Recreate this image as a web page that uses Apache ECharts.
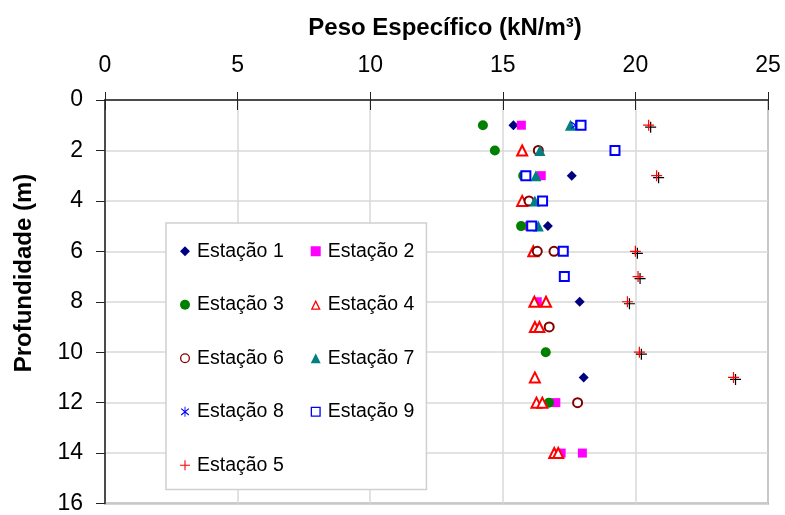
<!DOCTYPE html>
<html>
<head>
<meta charset="utf-8">
<script src="https://cdn.jsdelivr.net/npm/echarts@6/dist/echarts.min.js"></script>
<style>html,body{margin:0;padding:0;background:#fff}#c{width:785px;height:515px}</style>
</head>
<body>
<div id="c"></div>
<script>
// Data: [peso específico (kN/m3), profundidade (m)]
const estacao1 = [[15.4,1],[17.6,3],[16.7,5],[17.9,8],[18.05,11]];
const estacao2 = [[15.7,1],[16.45,3],[16.0,5],[16.3,8],[17.0,12],[17.2,14],[18.0,14]];
const estacao3 = [[14.25,1],[14.7,2],[15.77,3],[15.69,5],[16.62,10],[16.74,12]];
const estacao4 = [[15.73,2],[15.73,4],[16.15,6],[16.19,8],[16.63,8],[16.21,9],[16.38,9],[16.21,11],[16.27,12],[16.49,12],[16.94,14],[17.09,14]];
const estacao6 = [[16.34,2],[15.99,4],[16.3,6],[16.93,6],[16.75,9],[17.82,12]];
const estacao7 = [[17.55,1],[16.4,2],[16.25,3],[16.21,4],[16.34,5]];
const estacao8 = [[17.75,1]];
const estacao9 = [[17.95,1],[19.23,2],[15.87,3],[16.5,4],[16.09,5],[17.28,6],[17.32,7]];
const estacao5 = [[20.5,1],[20.8,3],[20.0,6],[20.1,7],[19.7,8],[20.15,10],[23.7,11]];

const xTicks = [0,5,10,15,20,25];
const yTicks = [0,2,4,6,8,10,12,14,16];
const xTitle = 'Peso Específico (kN/m³)';
const yTitle = 'Profundidade (m)';

const FONT = '"Liberation Sans", Arial, sans-serif';
const plusPath = 'path://M-1.1,-10h2.2v20h-2.2z M-10,-1.1h20v2.2h-20z';
const starPath = 'path://M-0.9,-10h1.8v20h-1.8z M8.35,5.55L6.95,7.25L-8.35,-5.55L-6.95,-7.25z M-6.95,7.25L-8.35,5.55L6.95,-7.25L8.35,-5.55z';
// hollow legend icons (filled rings)
const ringRect = 'path://M0,0L10,0L10,10L0,10Z M1.3,1.3L1.3,8.7L8.7,8.7L8.7,1.3Z';
const ringCircle = 'path://M5,0A5,5 0 1,1 5,10A5,5 0 1,1 5,0Z M5,1.3A3.7,3.7 0 1,0 5,8.7A3.7,3.7 0 1,0 5,1.3Z';
const ringTri = 'path://M5,0L10,10L0,10Z M5,2.9L2.1,8.7L7.9,8.7Z';

function sc(name, data, symbol, size, itemStyle) {
  return { type:'scatter', name, data, symbol, symbolSize:size, itemStyle:Object.assign({opacity:1}, itemStyle), xAxisIndex:0, yAxisIndex:0 };
}

const series = [
  sc('Estação 1', estacao1, 'diamond', 10, {color:'#000080'}),
  sc('Estação 2', estacao2, 'rect', 9, {color:'#ff00ff'}),
  sc('Estação 3', estacao3, 'circle', 10, {color:'#008000'}),
  sc('Estação 4', estacao4, 'emptyTriangle', 10, {color:'#ff0000', borderColor:'#ff0000', borderWidth:1.2}),
  sc('Estação 6', estacao6, 'emptyCircle', 9, {color:'#800000', borderColor:'#800000', borderWidth:1.2}),
  sc('Estação 7', estacao7, 'triangle', 11, {color:'#008080'}),
  sc('Estação 8', estacao8, starPath, 10, {color:'#0000ff'}),
  sc('Estação 9', estacao9, 'emptyRect', 9, {color:'#0000ff', borderColor:'#0000ff', borderWidth:1.2}),
  sc('Estação 5', estacao5, plusPath, 11, {color:'#ff0000', shadowColor:'#000', shadowBlur:0, shadowOffsetX:2, shadowOffsetY:2})
];

const chart = echarts.init(document.getElementById('c'), null, {renderer:'canvas'});
chart.setOption({
  animation:false,
  backgroundColor:'#fff',
  grid:{left:105, top:100, right:17, bottom:8, show:true, borderColor:'#999', borderWidth:2, backgroundColor:'transparent'},
  xAxis:[{
    type:'value', position:'top', min:xTicks[0], max:xTicks[xTicks.length-1], interval:5,
    axisLine:{show:true, lineStyle:{color:'#222', width:1.5}},
    axisTick:{show:true, inside:false, length:8, lineStyle:{color:'#222', width:1}},
    axisLabel:{margin:23, fontSize:23, color:'#000', fontFamily:FONT},
    splitLine:{show:true, lineStyle:{color:'#d9d9d9', width:1.5}}
  },{
    type:'value', position:'top', min:xTicks[0], max:xTicks[xTicks.length-1], interval:5,
    axisLine:{show:false},
    axisTick:{show:true, inside:true, length:10, lineStyle:{color:'#222', width:1}},
    axisLabel:{show:false}, splitLine:{show:false}
  }],
  yAxis:{
    type:'value', inverse:true, min:yTicks[0], max:yTicks[yTicks.length-1], interval:2,
    axisLine:{show:true, lineStyle:{color:'#222', width:1.5}},
    axisTick:{show:true, inside:false, length:9, lineStyle:{color:'#222', width:1}},
    axisLabel:{margin:22, fontSize:23, color:'#000', fontFamily:FONT},
    splitLine:{show:true, lineStyle:{color:'#d9d9d9', width:1.5}}
  },
  legend:{
    orient:'horizontal', left:166, top:223, width:240,
    padding:[15,12,11,14], itemGap:27, itemWidth:10, itemHeight:10,
    backgroundColor:'#fff', borderColor:'#d0d0d0', borderWidth:1.5,
    textStyle:{fontSize:19.5, fontFamily:FONT, color:'#000', lineHeight:26.5, padding:[0,0,0,2]},
    data:['Estação 1','Estação 2','Estação 3',
      {name:'Estação 4', icon:ringTri, itemStyle:{color:'#ff0000', borderWidth:0}},
      {name:'Estação 6', icon:ringCircle, itemStyle:{color:'#800000', borderWidth:0}},
      'Estação 7','Estação 8',
      {name:'Estação 9', icon:ringRect, itemStyle:{color:'#0000ff', borderWidth:0}},
      {name:'Estação 5', itemStyle:{shadowColor:'rgba(0,0,0,0)', shadowOffsetX:0, shadowOffsetY:0}}]
  },
  graphic:[
    {type:'text', x:445, y:28, style:{text:xTitle, fontSize:24, fontWeight:'bold', fontFamily:FONT, fill:'#000', align:'center', verticalAlign:'middle'}},
    {type:'text', x:24, y:273, rotation:Math.PI/2, style:{text:yTitle, fontSize:24, fontWeight:'bold', fontFamily:FONT, fill:'#000', align:'center', verticalAlign:'middle'}}
  ],
  series
});
</script>
</body>
</html>
